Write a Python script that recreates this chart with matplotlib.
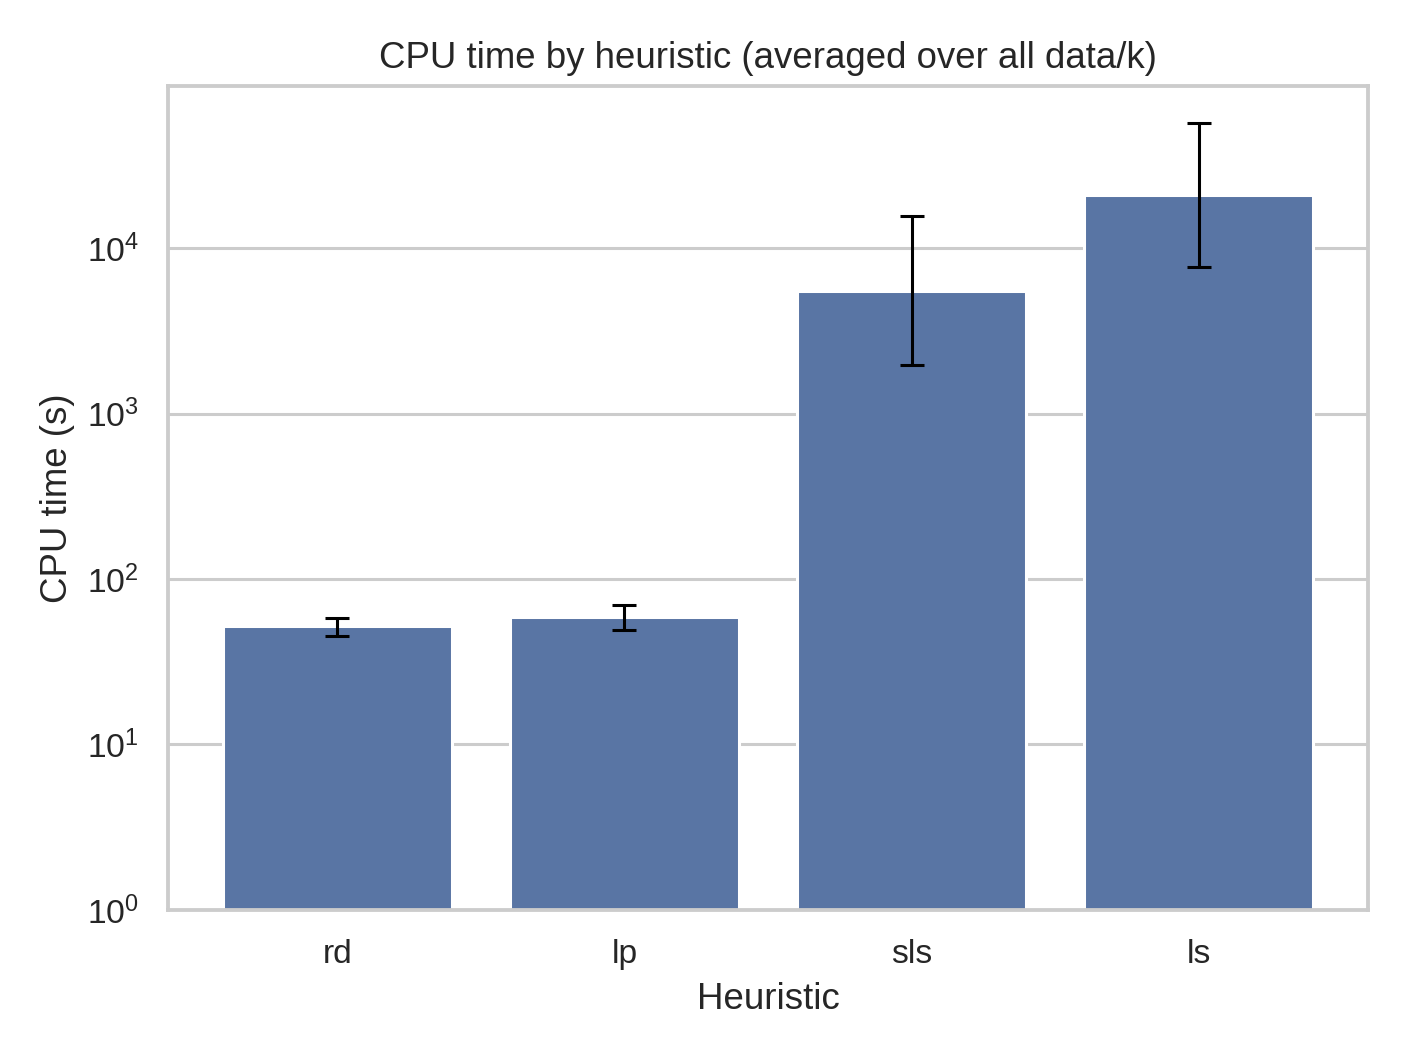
import numpy as np
import matplotlib
matplotlib.use("Agg")
import matplotlib.pyplot as plt
import seaborn as sns

# ------------------------------------------------------
# Data (CPU time in seconds, log scale)
heuristics = ["rd", "lp", "sls", "ls"]
cpu_mean = [51.3, 57.9, 5520, 20900]
cpu_low = [45.4, 48.9, 1964, 7680]
cpu_high = [58.1, 69.6, 15600, 56900]
# ------------------------------------------------------

sns.set_theme(style="whitegrid")
plt.rcParams['font.family'] = ['Liberation Sans', 'DejaVu Sans']

fig, ax = plt.subplots(figsize=(6.4, 4.8), dpi=220)

x = np.arange(len(heuristics))
mean = np.array(cpu_mean)
yerr = [mean - np.array(cpu_low), np.array(cpu_high) - mean]

ax.bar(x, mean, width=0.8, bottom=1, color="#5975a4")
ax.errorbar(x, mean, yerr=yerr, fmt="none", ecolor="black",
            elinewidth=1.0, capsize=4, capthick=1.0)

ax.set_yscale("log")
ax.set_ylim(1, 10 ** 4.98)
ax.set_xticks(x)
ax.set_xticklabels(heuristics)
ax.grid(axis="x", visible=False)
ax.set_axisbelow(True)

ax.set_title("CPU time by heuristic (averaged over all data/k)", fontsize=12)
ax.set_xlabel("Heuristic", fontsize=12)
ax.set_ylabel("CPU time (s)", fontsize=12)
ax.tick_params(labelsize=11)

fig.subplots_adjust(left=0.1193, right=0.9716, top=0.9186, bottom=0.1383)
fig.savefig("out.png", dpi=220)
